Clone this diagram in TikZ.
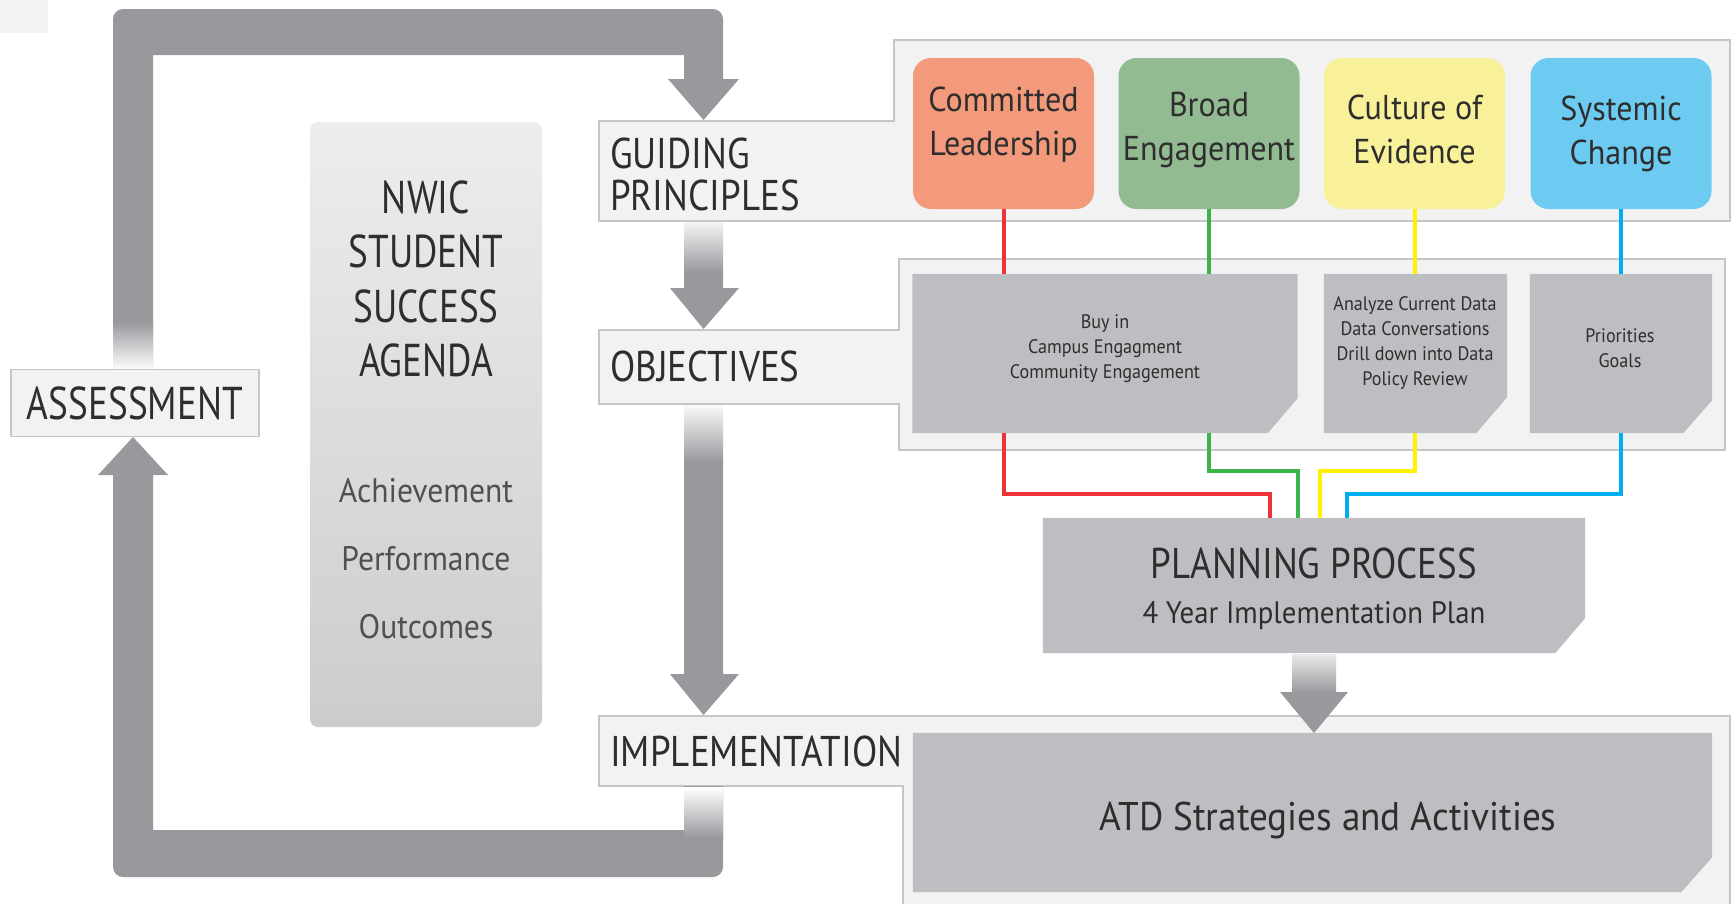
\documentclass[tikz,border=0pt]{standalone}
\usepackage{fontspec}
\setmainfont[FakeStretch=0.93]{PT Sans}
\newfontfamily\capsfont[FakeStretch=0.86]{PT Sans}
\newfontfamily\capsnarrow[FakeStretch=0.81]{PT Sans}
\usetikzlibrary{calc}
\pgfdeclarelayer{back}
\pgfsetlayers{back,main}
\definecolor{loopgray}{HTML}{98999D}
\definecolor{panelfill}{HTML}{F2F2F2}
\definecolor{panelline}{HTML}{C6C6C8}
\definecolor{boxgray}{HTML}{BDBEC1}
\definecolor{textdark}{HTML}{2E2E2E}
\definecolor{textmid}{HTML}{505050}
\definecolor{clfill}{HTML}{F39A7C}
\definecolor{befill}{HTML}{92BB91}
\definecolor{cefill}{HTML}{F9F19A}
\definecolor{scfill}{HTML}{6DCBF1}
\definecolor{redl}{HTML}{EE3338}
\definecolor{greenl}{HTML}{3BB54A}
\definecolor{yellowl}{HTML}{FFF200}
\definecolor{bluel}{HTML}{00AEEF}
\newcommand\fsz[2]{\fontsize{#1}{#2}\selectfont}
\newcommand\chamfer[3]{\fill[boxgray] (#1.north west) -- (#1.north east) -- ([yshift=#3]#1.south east) -- ([xshift=-#2]#1.south east) -- (#1.south west) -- cycle;}
\tikzset{
  panel/.style={fill=panelfill, draw=panelline, line width=1.5pt},
  lbl/.style={text=textdark, inner sep=0pt, anchor=west, align=left},
  pbox/.style={rounded corners=18pt, inner sep=0pt, minimum width=181pt, minimum height=151pt},
  ptxt/.style={text=textdark, inner sep=0pt, align=center, font=\fsz{34.5}{44}},
  gbox/.style={inner sep=0pt, text=textdark, align=center},
  otxt/.style={font=\fsz{19.5}{25}},
  conn/.style={line width=4pt},
}
\begin{document}
\begin{tikzpicture}[x=1pt,y=-1pt]
\useasboundingbox (0,0) rectangle (1731,903);
\begin{pgfonlayer}{back}
\fill[white] (0,0) rectangle (1731,903);
\fill[panelfill] (0,0) rectangle (48,33);
% panels
\filldraw[panel] (599,121) -- (894,121) -- (894,40) -- (1730,40) -- (1730,221) -- (599,221) -- cycle;
\filldraw[panel] (599,330) -- (899,330) -- (899,259) -- (1725,259) -- (1725,450) -- (899,450) -- (899,404) -- (599,404) -- cycle;
\filldraw[panel] (599,716) -- (1730,716) -- (1730,910) -- (903,910) -- (903,786) -- (599,786) -- cycle;
% agenda panel
\shade[top color=white!93!black, bottom color=white!80!black, rounded corners=8pt] (310,122) rectangle (542,727);
\end{pgfonlayer}

% loop arrows
\fill[loopgray] (113,370) [rounded corners=10pt]-- (113,9) -- (723,9) [sharp corners]-- (723,79) -- (739,79) -- (703.5,120) -- (668,79) -- (684,79) -- (684,55) -- (153,55) -- (153,370) -- cycle;
\shade[top color=loopgray, bottom color=white] (113,322) rectangle (153,370);
\fill[loopgray] (153,475) -- (168,475) -- (133,437) -- (98,475) -- (113,475) [rounded corners=10pt]-- (113,877) -- (723,877) [sharp corners]-- (723,786) -- (684,786) -- (684,830) -- (153,830) -- cycle;
\shade[top color=white, bottom color=loopgray] (684,787) rectangle (723,838);
% middle arrows
\shade[top color=white!90!loopgray, bottom color=loopgray] (684,222) rectangle (723,272);
\fill[loopgray] (684,271) -- (684,288) -- (670,288) -- (703.5,329) -- (739,288) -- (723,288) -- (723,271) -- cycle;
\shade[top color=white!95!loopgray, bottom color=loopgray] (684,405) rectangle (723,462);
\fill[loopgray] (684,461) -- (684,674) -- (670,674) -- (703.5,715) -- (739,674) -- (723,674) -- (723,461) -- cycle;
\shade[top color=white!80!loopgray, bottom color=loopgray] (1292,654) rectangle (1336,693);
\fill[loopgray] (1280,692) -- (1314,733) -- (1348,692) -- cycle;

% left labels
\node[panel, minimum width=248pt, minimum height=67pt, inner sep=0pt, text=textdark, font=\capsnarrow\fsz{46}{50}] (as) at (135,403) {ASSESSMENT};
\node[lbl, font=\capsfont\fsz{43}{42}] (gp) at (610,174) {GUIDING\\PRINCIPLES};
\node[lbl, font=\capsfont\fsz{43}{42}] (ob) at (610,366) {OBJECTIVES};
\node[lbl, font=\capsfont\fsz{43}{42}] (im) at (610,751) {IMPLEMENTATION};

% agenda
\node[gbox, font=\capsnarrow\fsz{46}{54.3}] (nwic) at (426,279) {NWIC\\STUDENT\\SUCCESS\\AGENDA};
\node[gbox, text=textmid, font=\fsz{34}{68}] (ach) at (426,559) {Achievement\\Performance\\Outcomes};

% principles
\node[pbox, fill=clfill] (cl) at (1003.5,133.5) {};
\node[pbox, fill=befill] (be) at (1209,133.5) {};
\node[pbox, fill=cefill] (ce) at (1414.5,133.5) {};
\node[pbox, fill=scfill] (sc) at (1621,133.5) {};
\node[ptxt] (clt) at (1003.5,125) {Committed\\Leadership};
\node[ptxt] (bet) at (1209,129.5) {Broad\\Engagement};
\node[ptxt] (cet) at (1414.5,129.5) {Culture of\\Evidence};
\node[ptxt] (sct) at (1621,133.5) {Systemic\\Change};

% objective boxes
\node[gbox, minimum width=385pt, minimum height=159pt] (o1) at (1105,353.5) {};
\node[gbox, minimum width=183pt, minimum height=159pt] (o2) at (1415.5,353.5) {};
\node[gbox, minimum width=182pt, minimum height=159pt] (o3) at (1621,353.5) {};
\node[gbox, minimum width=542pt, minimum height=135pt] (pp) at (1314,585.5) {};
\node[gbox, minimum width=799pt, minimum height=159pt] (atd) at (1312.5,812.5) {};
\begin{pgfonlayer}{back}
\chamfer{o1}{30pt}{35pt}
\chamfer{o2}{31pt}{36pt}
\chamfer{o3}{29pt}{33pt}
\chamfer{pp}{30pt}{35pt}
\chamfer{atd}{31pt}{35pt}
\end{pgfonlayer}
\node[gbox, otxt] (o1t) at (1105,349) {Buy in\\Campus Engagment\\Community Engagement};
\node[gbox, otxt] (o2t) at (1415,343) {Analyze Current Data\\Data Conversations\\Drill down into Data\\Policy Review};
\node[gbox, otxt] (o3t) at (1620,348) {Priorities\\Goals};
\node[gbox, font=\capsfont\fsz{43}{47}] (ppt) at (1314,563) {PLANNING PROCESS};
\node[gbox, font=\fsz{31}{36}] (ppt2) at (1314,616) {4 Year Implementation Plan};
\node[gbox, font=\fsz{40}{44}] (atdt) at (1328,820) {ATD Strategies and Activities};

% connectors
\draw[conn, redl] (cl.south) -- (cl.south |- o1.north);
\draw[conn, greenl] (be.south) -- (be.south |- o1.north);
\draw[conn, yellowl] (ce.south) -- (ce.south |- o2.north);
\draw[conn, bluel] (sc.south) -- (sc.south |- o3.north);
\coordinate (rj) at (1270,518);
\coordinate (gj) at (1298,518);
\coordinate (yj) at (1320,518);
\coordinate (bj) at (1347,518);
\draw[conn, redl] (cl.south |- o1.south) -- ++(0,61) -| (rj);
\draw[conn, greenl] (be.south |- o1.south) -- ++(0,38) -| (gj);
\draw[conn, yellowl] (ce.south |- o2.south) -- ++(0,38) -| (yj);
\draw[conn, bluel] (sc.south |- o3.south) -- ++(0,61) -| (bj);
\end{tikzpicture}
\end{document}
